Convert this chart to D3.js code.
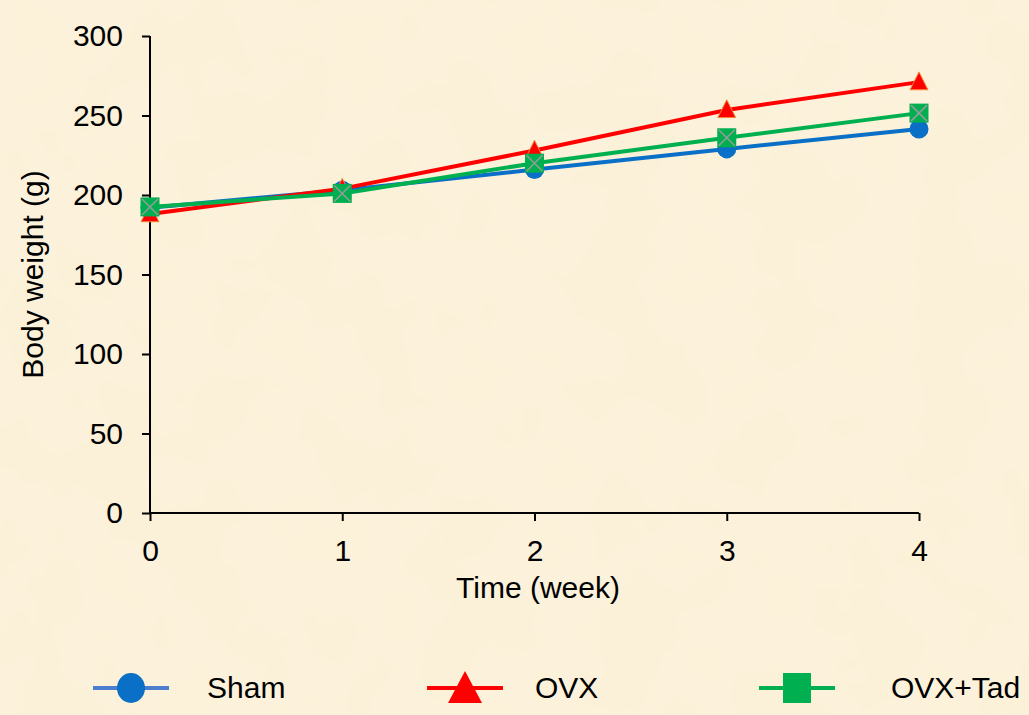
<!DOCTYPE html>
<html>
<head>
<meta charset="utf-8">
<script src="https://cdn.jsdelivr.net/npm/d3@7"></script>
<style>
  html, body { margin: 0; padding: 0; background: #fbf0d8; }
  svg { display: block; font-family: "Liberation Sans", Arial, sans-serif; }
</style>
</head>
<body>
<div id="chart"></div>
<script>
const weeks = [0, 1, 2, 3, 4];
const yTicks = [0, 50, 100, 150, 200, 250, 300];
const shamValues = [192, 203, 216, 229, 241.5];
const ovxValues = [188, 204, 228, 253.5, 271];
const tadValues = [192.5, 201, 220, 236, 251.5];
const seriesNames = ["Sham", "OVX", "OVX+Tad"];

const width = 1029, height = 715;
const svg = d3.select("#chart").append("svg")
    .attr("width", width)
    .attr("height", height);

// parchment background with a faint texture
const defs = svg.append("defs");
const f = defs.append("filter").attr("id", "paper");
f.append("feTurbulence").attr("type", "fractalNoise").attr("baseFrequency", 0.012)
    .attr("numOctaves", 3).attr("seed", 4);
f.append("feColorMatrix").attr("type", "matrix")
    .attr("values", "0 0 0 0 0.93  0 0 0 0 0.82  0 0 0 0 0.6  0 0 0 0.18 0");
svg.append("rect").attr("width", width).attr("height", height).attr("fill", "#fcf2db");
svg.append("rect").attr("width", width).attr("height", height).attr("filter", "url(#paper)");

const x = d3.scaleLinear().domain([0, 4]).range([150, 919]);
const y = d3.scaleLinear().domain([0, 300]).range([513, 36]);

// axes
const yAxis = svg.append("g")
    .attr("transform", `translate(${x(0)},0)`)
    .call(d3.axisLeft(y).tickValues(yTicks).tickSize(8).tickPadding(19));
const xAxis = svg.append("g")
    .attr("transform", `translate(0,${y(0)})`)
    .call(d3.axisBottom(x).tickValues(weeks).tickSize(8).tickPadding(19).tickFormat(d3.format("d")));

[yAxis, xAxis].forEach(g => {
    g.select(".domain").attr("stroke", "#000").attr("stroke-width", 2);
    g.selectAll(".tick line").attr("stroke", "#000").attr("stroke-width", 2);
    g.selectAll(".tick text").attr("fill", "#000").style("font-size", "30px")
        .style("font-family", "'Liberation Sans', Arial, sans-serif");
});
yAxis.select(".domain").attr("d", `M0,${y(300)}V${y(0)}`);
xAxis.select(".domain").attr("d", `M${x(0)},0H${x(4)}`);

svg.append("text")
    .attr("x", 538)
    .attr("y", 598)
    .attr("text-anchor", "middle")
    .style("font-size", "30px")
    .text("Time (week)");

svg.append("text")
    .attr("transform", `translate(43,${(y(0) + y(300)) / 2}) rotate(-90)`)
    .attr("text-anchor", "middle")
    .style("font-size", "30px")
    .text("Body weight (g)");

const series = [
    { name: seriesNames[0], values: shamValues, color: "#0a6fc6", marker: "circle" },
    { name: seriesNames[1], values: ovxValues, color: "#ff0000", marker: "triangle" },
    { name: seriesNames[2], values: tadValues, color: "#00b050", marker: "square" }
];

const line = d3.line().x((d, i) => x(weeks[i])).y(d => y(d));

function drawMarker(g, type, color, s) {
    if (type === "circle") {
        g.append("circle").attr("r", s).attr("fill", color);
    } else if (type === "triangle") {
        const h = s * 2;
        g.append("path")
            .attr("d", `M0,${-h * 0.6}L${s * 1.05},${h * 0.45}L${-s * 1.05},${h * 0.45}Z`)
            .attr("fill", color)
            .attr("stroke", "#f08a3a").attr("stroke-width", 1);
    } else {
        g.append("rect").attr("x", -s).attr("y", -s)
            .attr("width", s * 2).attr("height", s * 2).attr("fill", color);
    }
}

series.forEach(s => {
    svg.append("path")
        .datum(s.values)
        .attr("fill", "none")
        .attr("stroke", s.color)
        .attr("stroke-width", 4)
        .attr("d", line);

    const pts = svg.selectAll(null)
        .data(s.values)
        .enter().append("g")
        .attr("transform", (d, i) => `translate(${x(weeks[i])},${y(d)})`);
    pts.each(function () {
        const g = d3.select(this);
        drawMarker(g, s.marker, s.color, s.marker === "triangle" ? 8.5 : s.marker === "circle" ? 9.5 : 9.5);
        if (s.marker === "square") {
            g.append("path").attr("d", "M-8,-8L8,8M8,-8L-8,8")
                .attr("stroke", "#9a9a9a").attr("stroke-width", 1.5);
        }
    });
});

// legend
const legendX = [131, 465, 797];
const legendY = 688;
series.forEach((s, i) => {
    const g = svg.append("g").attr("transform", `translate(${legendX[i]},${legendY})`);
    g.append("line").attr("x1", -38).attr("x2", 38)
        .attr("stroke", i === 0 ? "#4a7fd0" : s.color).attr("stroke-width", 4);
    if (s.marker === "circle") {
        g.append("ellipse").attr("rx", 14).attr("ry", 15).attr("fill", s.color);
    } else if (s.marker === "triangle") {
        g.append("path").attr("d", "M0,-17L17,15L-17,15Z").attr("fill", s.color);
    } else {
        g.append("rect").attr("x", -14).attr("y", -15).attr("width", 28).attr("height", 30).attr("fill", s.color);
    }
    g.append("text")
        .attr("x", [76, 70, 94][i])
        .attr("y", 10)
        .style("font-size", "30px")
        .text(s.name);
});
</script>
</body>
</html>
